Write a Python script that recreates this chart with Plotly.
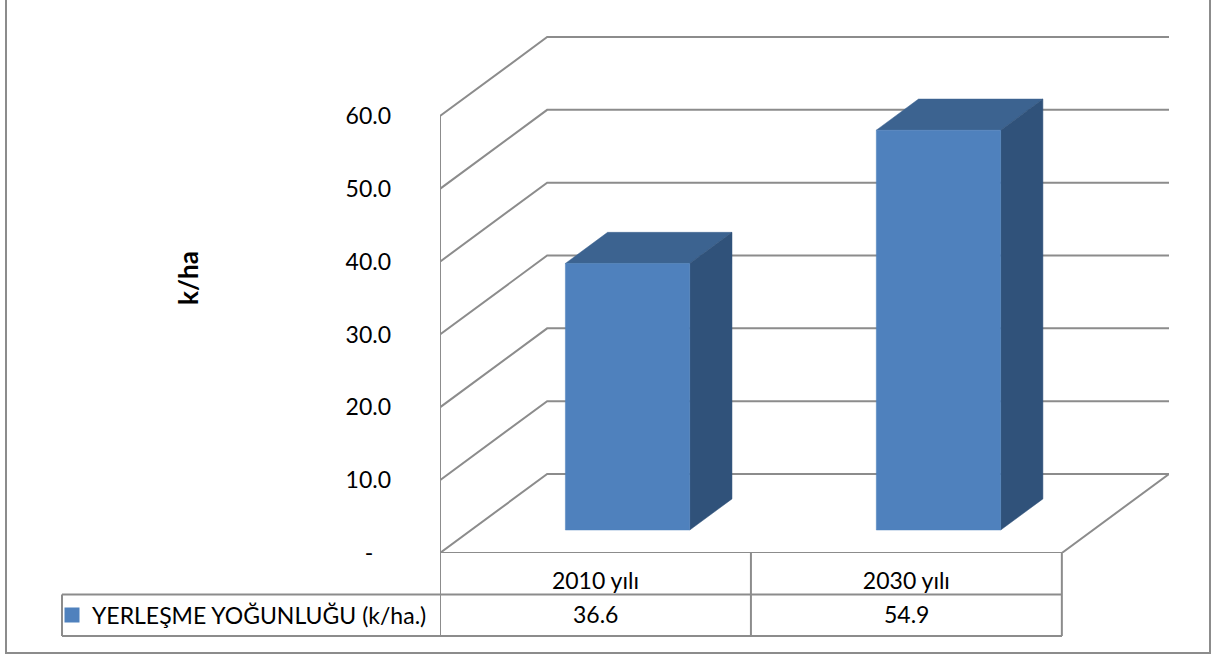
import plotly.graph_objects as go

# ---- data ----
categories = ["2010 yılı", "2030 yılı"]
values = [36.6, 54.9]
series_name = "YERLEŞME YOĞUNLUĞU (k/ha.)"
value_labels = ["36.6", "54.9"]
y_ticks = [0, 10, 20, 30, 40, 50, 60]
y_tick_labels = ["-\u00a0\u00a0\u00a0", "10.0", "20.0", "30.0", "40.0", "50.0", "60.0"]
y_title = "k/ha"

# ---- oblique projection / layout ----
W, H = 1211, 654
L, R, T, B = 440, 1169, 36, 553      # plot area in pixels
DX = 107 / 310.5                     # x shift for full depth (category units)
DY = 79 / 7.283                      # y shift for full depth (value units)
BAR_W = 0.4
BAR_OFFSET = 0.503
D0, D1 = 0.291, 0.685                # bar depth range
FONT = "Lato, Carlito, sans-serif"
FS = 23
GRID = "#8C8C8C"
FRONT, TOP, SIDE = "#4F81BD", "#3C6390", "#30527A"


def px(x):
    return (x - L) / (R - L)


def py(y):
    return (B - y) / (B - T)


def proj(x, v, d):
    return x + d * DX, v + d * DY


fig = go.Figure()


def poly(points, **kw):
    xs = [p[0] for p in points]
    ys = [p[1] for p in points]
    fig.add_trace(go.Scatter(x=xs, y=ys, showlegend=False, hoverinfo="skip", cliponaxis=False, **kw))


n = len(categories)
wall = dict(mode="lines", line=dict(color=GRID, width=2))
# gridlines, running along the left wall then the back wall
for v in y_ticks:
    poly([proj(0, v, 0), proj(0, v, 1), proj(n, v, 1)], **wall)
# floor edges and the front vertical
poly([proj(n, 0, 1), proj(n, 0, 0), proj(0, 0, 0)], **wall)
poly([proj(0, y_ticks[0], 0), proj(0, y_ticks[-1], 0)], **wall)

# bars
for i, v in enumerate(values):
    x0 = i + BAR_OFFSET - BAR_W / 2
    x1 = i + BAR_OFFSET + BAR_W / 2
    poly([proj(x0, v, D0), proj(x1, v, D0), proj(x1, v, D1), proj(x0, v, D1), proj(x0, v, D0)],
         mode="lines", fill="toself", fillcolor=TOP, line=dict(color=TOP, width=0.5))
    poly([proj(x1, 0, D0), proj(x1, 0, D1), proj(x1, v, D1), proj(x1, v, D0), proj(x1, 0, D0)],
         mode="lines", fill="toself", fillcolor=SIDE, line=dict(color=SIDE, width=0.5))
    poly([proj(x0, 0, D0), proj(x1, 0, D0), proj(x1, v, D0), proj(x0, v, D0), proj(x0, 0, D0)],
         mode="lines", fill="toself", fillcolor=FRONT, line=dict(color=FRONT, width=0.5))

# legend key
fig.add_trace(go.Scatter(x=[None], y=[None], mode="markers", name=series_name,
                         marker=dict(symbol="square", size=15, color=FRONT), showlegend=True))

cat_pos = [i + 0.5 for i in range(n)]

# data table frame
tbl = dict(color=GRID, width=2)
shapes = []
for yy in (594.5, 636):
    shapes.append(dict(type="line", xref="paper", yref="paper", x0=px(62), x1=px(1062), y0=py(yy), y1=py(yy), line=tbl))
shapes.append(dict(type="line", xref="paper", yref="paper", x0=px(62), x1=px(62), y0=py(594.5), y1=py(636), line=tbl))
for i in range(n + 1):
    shapes.append(dict(type="line", xref="x", yref="paper", x0=i, x1=i, y0=py(B), y1=py(636), line=tbl))
# outer chart border (open at the top edge)
shapes.append(dict(type="path", xref="paper", yref="paper",
                   path=f"M {px(6)} {py(0)} L {px(6)} {py(653)} L {px(1210)} {py(653)} L {px(1210)} {py(0)}",
                   line=dict(color=GRID, width=2)))

annotations = [dict(x=p, y=py(614), xref="x", yref="paper", text=t, showarrow=False,
                    xanchor="center", yanchor="middle",
                    font=dict(family=FONT, size=FS, color="#000000"))
               for p, t in zip(cat_pos, value_labels)]
annotations.append(dict(x=px(188), y=py(278), xref="paper", yref="paper", text=f"<b>{y_title}</b>",
                        textangle=-90, showarrow=False, xanchor="center", yanchor="middle",
                        font=dict(family=FONT, size=26, color="#000000")))

fig.update_layout(
    width=W, height=H, autosize=False,
    margin=dict(l=L, r=W - R, t=T, b=H - B, pad=0),
    paper_bgcolor="white", plot_bgcolor="white",
    font=dict(family=FONT, size=FS, color="#000000"),
    shapes=shapes, annotations=annotations, hovermode=False,
    legend=dict(x=px(52), y=py(615), xanchor="left", yanchor="middle",
                bgcolor="rgba(0,0,0,0)", borderwidth=0, font=dict(family=FONT, size=FS)),
    xaxis=dict(range=[0, n + DX], showgrid=False, zeroline=False, showline=False,
               tickmode="array", tickvals=cat_pos, ticktext=categories, ticks="",
               ticklabelstandoff=12, automargin=False, fixedrange=True),
    yaxis=dict(range=[0, (B - T) / 7.283], showgrid=False, zeroline=False, showline=False,
               tickmode="array", tickvals=y_ticks, ticktext=y_tick_labels, ticks="",
               ticklabelstandoff=48, automargin=False, fixedrange=True),
)

fig.write_html("out.html", config=dict(displayModeBar=False),
               post_script="document.body.style.margin='0';")
